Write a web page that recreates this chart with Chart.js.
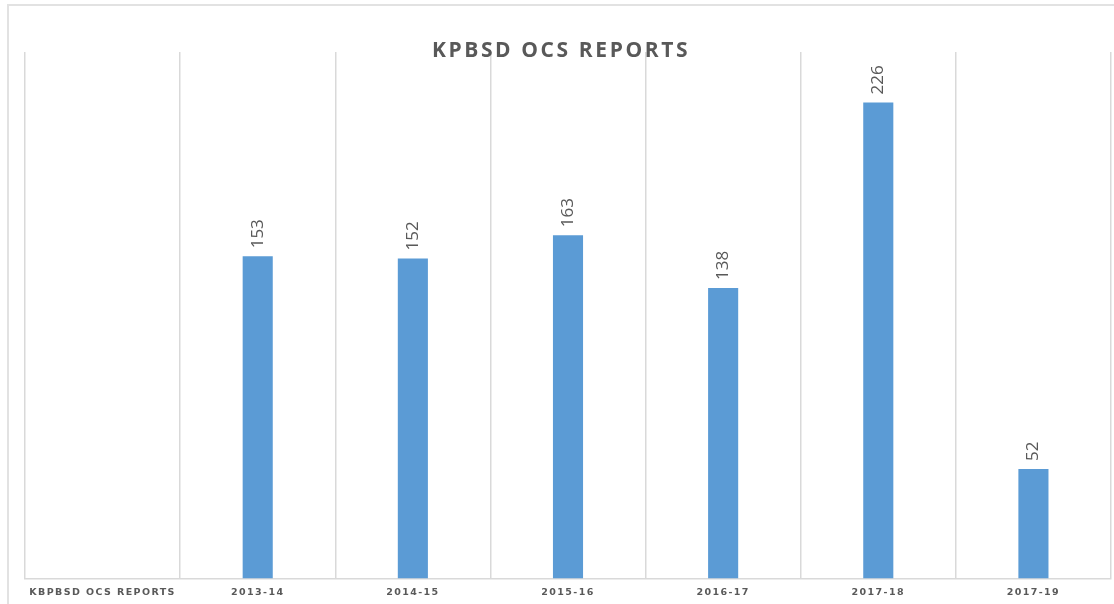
<!DOCTYPE html>
<html>
<head>
<meta charset="utf-8">
<script src="https://cdn.jsdelivr.net/npm/chart.js@4"></script>
<style>
  html, body { margin: 0; padding: 0; background: #fff; }
  #frame {
    position: absolute; left: 7px; top: 4px; width: 1107px; height: 600px;
    border-left: 2px solid #e2e2e2; border-top: 2px solid #e2e2e2;
  }
  #wrap { position: absolute; left: 0; top: 0; width: 1114px; height: 604px; }
</style>
</head>
<body>
<div id="frame"></div>
<div id="wrap"><canvas id="chOcs"></canvas></div>
<script>
// chart data
var categories = ['KBPBSD OCS REPORTS', '2013-14', '2014-15', '2015-16', '2016-17', '2017-18', '2017-19'];
var reports = [null, 153, 152, 163, 138, 226, 52];
var chartTitle = 'KPBSD OCS REPORTS';

var textGray = '#595959';
var gridGray = '#d9d9d9';
var barBlue = '#5b9bd5';

// tick labels are spaced out a bit, title drawn over top of the plot like the original
var spacingPlugin = {
  id: 'spacing',
  beforeDraw: function (chart) {
    chart.ctx.save();
    chart.ctx.letterSpacing = '1.4px';
  },
  afterDraw: function (chart) {
    chart.ctx.restore();
    var ctx = chart.ctx;
    ctx.save();
    ctx.letterSpacing = '2.6px';
    ctx.font = 'bold 21px "Open Sans", sans-serif';
    ctx.fillStyle = textGray;
    ctx.textAlign = 'center';
    ctx.textBaseline = 'middle';
    ctx.fillText(chartTitle, 561, 51);
    ctx.restore();
  }
};

// rotated value labels on top of bars
var valueLabels = {
  id: 'valueLabels',
  afterDatasetsDraw: function (chart) {
    var ctx = chart.ctx;
    var meta = chart.getDatasetMeta(0);
    ctx.save();
    ctx.letterSpacing = '0px';
    ctx.font = '17px "Liberation Sans Narrow", "Open Sans", sans-serif';
    ctx.fillStyle = textGray;
    ctx.textAlign = 'left';
    ctx.textBaseline = 'middle';
    meta.data.forEach(function (bar, i) {
      if (reports[i] == null) return;
      ctx.save();
      ctx.translate(bar.x, bar.y - 8);
      ctx.rotate(-Math.PI / 2);
      ctx.fillText(String(reports[i]), 0, 0);
      ctx.restore();
    });
    ctx.restore();
  }
};

new Chart(document.getElementById('chOcs'), {
  type: 'bar',
  data: {
    labels: categories,
    datasets: [{
      data: reports,
      backgroundColor: barBlue,
      borderWidth: 0,
      barPercentage: 0.194,
      categoryPercentage: 1
    }]
  },
  options: {
    responsive: true,
    maintainAspectRatio: false,
    animation: false,
    layout: { padding: { left: 25, right: 3, top: 52, bottom: -2 } },
    plugins: {
      legend: { display: false },
      tooltip: { enabled: false },
      title: { display: false }
    },
    scales: {
      x: {
        grid: { color: gridGray, lineWidth: 1.5, drawTicks: false, offset: true },
        border: { color: gridGray, width: 1.5 },
        ticks: {
          color: textGray,
          padding: 8,
          maxRotation: 0,
          autoSkip: false,
          font: { family: '"DejaVu Sans", sans-serif', size: 9.5, weight: 'bold' }
        }
      },
      y: {
        display: false,
        min: 0,
        max: 250
      }
    }
  },
  plugins: [spacingPlugin, valueLabels]
});
</script>
</body>
</html>
